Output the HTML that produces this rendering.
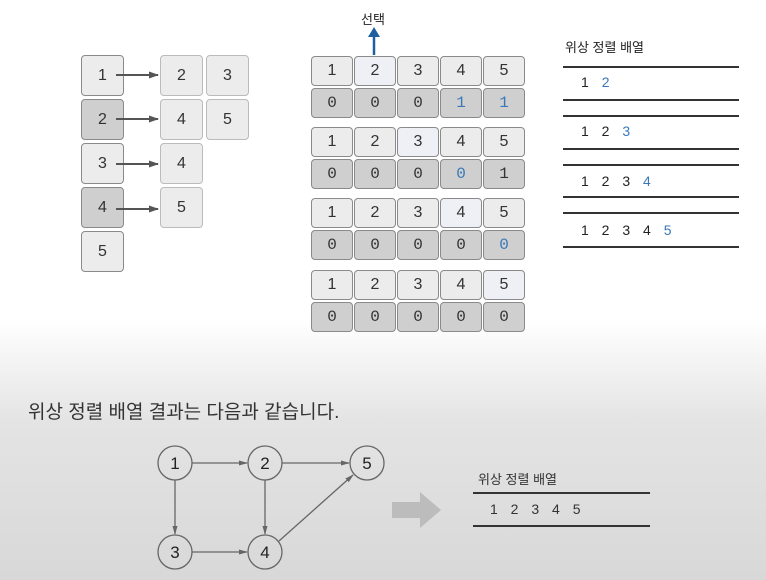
<!DOCTYPE html>
<html><head><meta charset="utf-8"><style>
body{margin:0;width:766px;height:580px;overflow:hidden;font-family:"Liberation Sans","Noto Sans CJK KR",sans-serif;background:linear-gradient(#fff 0,#fff 320px,#e4e4e4 420px,#d8d8d8 580px);position:relative}
.b{position:absolute;box-sizing:border-box;border:1.5px solid #8a8a8a;border-radius:4px;background:#ececec;color:#333;font-size:16px;display:flex;align-items:center;justify-content:center}
.d{background:#cfcfcf}
.l{background:#eef0f6}
.m{font-family:"Liberation Mono",monospace}
.bl{color:#3a78b8}
.t{position:absolute;font-size:14px;color:#222}
.hl{position:absolute;height:1.5px;background:#333}
</style></head><body>
<div class="b" style="left:81px;top:55px;width:43px;height:41px">1</div>
<div class="b d" style="left:81px;top:99px;width:43px;height:41px">2</div>
<div class="b" style="left:81px;top:143px;width:43px;height:41px">3</div>
<div class="b d" style="left:81px;top:187px;width:43px;height:41px">4</div>
<div class="b" style="left:81px;top:231px;width:43px;height:41px">5</div>
<div class="b" style="left:160px;top:55px;width:43px;height:41px;border-color:#bbb">2</div>
<div class="b" style="left:206px;top:55px;width:43px;height:41px;border-color:#bbb">3</div>
<div class="b" style="left:160px;top:99px;width:43px;height:41px;border-color:#bbb">4</div>
<div class="b" style="left:206px;top:99px;width:43px;height:41px;border-color:#bbb">5</div>
<div class="b" style="left:160px;top:143px;width:43px;height:41px;border-color:#bbb">4</div>
<div class="b" style="left:160px;top:187px;width:43px;height:41px;border-color:#bbb">5</div>
<svg style="position:absolute;left:0;top:0" width="766" height="580">
<defs><marker id="a" markerUnits="userSpaceOnUse" markerWidth="10" markerHeight="10" refX="9" refY="5" orient="auto"><path d="M0,1.5 L10,5 L0,8.5z" fill="#555"/></marker>
<marker id="g" markerUnits="userSpaceOnUse" markerWidth="9" markerHeight="8" refX="8" refY="4" orient="auto"><path d="M0,1.5 L9,4 L0,6.5z" fill="#666"/></marker></defs>
<g stroke="#555" stroke-width="2" marker-end="url(#a)">
<line x1="116" y1="75" x2="158" y2="75"/><line x1="116" y1="119" x2="158" y2="119"/>
<line x1="116" y1="164" x2="158" y2="164"/><line x1="116" y1="209" x2="158" y2="209"/></g>
<line x1="374" y1="55" x2="374" y2="34" stroke="#1f5fa0" stroke-width="2.5"/>
<path d="M368,37 L374,27 L380,37z" fill="#1f5fa0"/>
<g stroke="#666" stroke-width="1.3" fill="none">
<circle cx="175" cy="463" r="17"/><circle cx="265" cy="463" r="17"/><circle cx="367" cy="463" r="17"/>
<circle cx="175" cy="552" r="17"/><circle cx="265" cy="552" r="17"/>
<g marker-end="url(#g)"><line x1="192" y1="463" x2="247" y2="463"/><line x1="282" y1="463" x2="349" y2="463"/>
<line x1="175" y1="480" x2="175" y2="534"/><line x1="265" y1="480" x2="265" y2="534"/>
<line x1="192" y1="552" x2="247" y2="552"/><line x1="279" y1="541" x2="353" y2="475"/></g></g>
<g font-size="17" fill="#222" text-anchor="middle" font-family="Liberation Sans">
<text x="175" y="469">1</text><text x="265" y="469">2</text><text x="367" y="469">5</text><text x="175" y="558">3</text><text x="265" y="558">4</text></g>
<path d="M392,502 L420,502 L420,492 L441,510 L420,528 L420,518 L392,518z" fill="#bcbcbc"/>
</svg>
<div class="t" style="left:361px;top:9px;font-size:13px">선택</div>
<div id="grid"></div>
<script>
var tops=[56,127,198,270],xs=[311,354,397,440,483],h='';
var hi=[1,2,3,4];
var bot=[['0','0','0','1b','1b'],['0','0','0','0b','1'],['0','0','0','0','0b'],['0','0','0','0','0']];
for(var r=0;r<4;r++){for(var c=0;c<5;c++){
h+='<div class="b'+(c==hi[r]?' l':'')+'" style="left:'+xs[c]+'px;top:'+tops[r]+'px;width:42px;height:30px">'+(c+1)+'</div>';
var v=bot[r][c];h+='<div class="b d m'+(v.length>1?' bl':'')+'" style="left:'+xs[c]+'px;top:'+(tops[r]+32)+'px;width:42px;height:30px">'+v[0]+'</div>';}}
document.getElementById('grid').innerHTML=h;
</script>
<div class="t" style="left:565px;top:37px;font-size:13px">위상 정렬 배열</div>
<div class="hl" style="left:563px;top:66px;width:176px"></div>
<div class="hl" style="left:563px;top:99px;width:176px"></div>
<div class="hl" style="left:563px;top:115px;width:176px"></div>
<div class="hl" style="left:563px;top:148px;width:176px"></div>
<div class="hl" style="left:563px;top:164px;width:176px"></div>
<div class="hl" style="left:563px;top:196px;width:176px"></div>
<div class="hl" style="left:563px;top:212px;width:176px"></div>
<div class="hl" style="left:563px;top:246px;width:176px"></div>
<div class="t" style="left:581px;top:74px;word-spacing:9px">1 <span class="bl">2</span></div>
<div class="t" style="left:581px;top:123px;word-spacing:9px">1 2 <span class="bl">3</span></div>
<div class="t" style="left:581px;top:173px;word-spacing:9px">1 2 3 <span class="bl">4</span></div>
<div class="t" style="left:581px;top:222px;word-spacing:9px">1 2 3 4 <span class="bl">5</span></div>
<div class="t" style="left:28px;top:397px;font-size:19px;color:#333">위상 정렬 배열 결과는 다음과 같습니다.</div>
<div class="t" style="left:478px;top:469px;font-size:13px;color:#333">위상 정렬 배열</div>
<div class="hl" style="left:473px;top:492px;width:177px"></div>
<div class="hl" style="left:473px;top:525px;width:177px"></div>
<div class="t" style="left:490px;top:501px;word-spacing:9px;color:#333">1 2 3 4 5</div>
</body></html>
